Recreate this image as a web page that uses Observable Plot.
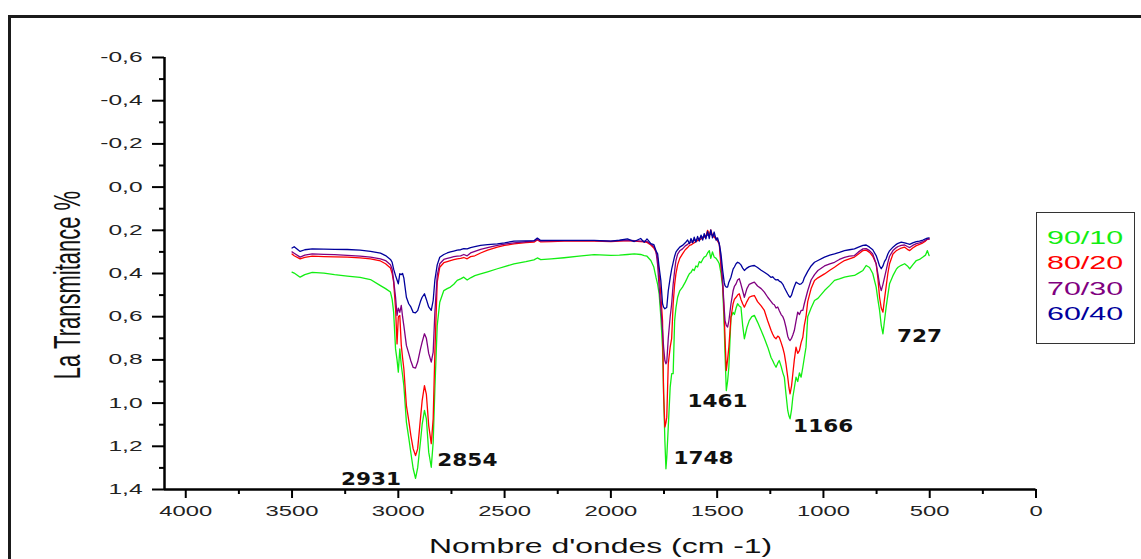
<!DOCTYPE html>
<html>
<head>
<meta charset="utf-8">
<script src="https://cdn.jsdelivr.net/npm/d3@7"></script>
<script src="https://cdn.jsdelivr.net/npm/@observablehq/plot@0.6"></script>
<style>
  html, body { margin: 0; padding: 0; background: #fff; }
  #wrap { position: relative; width: 1141px; height: 559px; overflow: hidden; font-family: "Liberation Sans", Arial, sans-serif; }
  #frame { position: absolute; left: 8px; top: 15px; width: 1200px; height: 600px; border: 3px solid #1b1b1b; box-sizing: border-box; }
  #chart { position: absolute; left: 0; top: 0; }
  #ytitle { position: absolute; left: 68px; top: 285px; font-size: 22px; line-height: 24px; white-space: nowrap; color: #111;
            transform: translate(-50%, -50%) scaleX(1.7) rotate(-90deg); }
  #xtitle { position: absolute; left: 429px; top: 536px; font-size: 21px; line-height: 20px; white-space: nowrap; color: #111;
            transform: scaleX(1.52); transform-origin: left center; }
  #legend { position: absolute; left: 1036px; top: 212px; width: 99px; height: 132px; border: 1.5px solid #333; box-sizing: border-box; }
  #legend div { position: absolute; left: 10px; font-size: 19px; line-height: 19px; white-space: nowrap;
                transform: scaleX(1.6); transform-origin: left center; }
</style>
</head>
<body>
<div id="wrap">
  <div id="frame"></div>
  <div id="chart"></div>
  <div id="ytitle">La Transmitance %</div>
  <div id="xtitle">Nombre d'ondes (cm -1)</div>
  <div id="legend"></div>
</div>
<script>
// FTIR spectra of the four blends, transmittance vs. wavenumber (cm-1)
const wavenumbers = [
  3500, 3490, 3462, 3440, 3405, 3350, 3300, 3240, 3180, 3131, 3084, 3060, 3037, 3029, 3022, 3013, 3006, 3000,
  2993, 2986, 2980, 2974, 2962, 2951, 2941, 2930, 2919, 2909, 2896, 2888, 2877, 2868, 2857, 2845, 2836, 2828,
  2817, 2805, 2786, 2770, 2755, 2739, 2723, 2707, 2692, 2676, 2660, 2640, 2613, 2580, 2534, 2500, 2456, 2400,
  2362, 2346, 2330, 2280, 2220, 2150, 2079, 2000, 1960, 1922, 1890, 1860, 1843, 1830, 1812, 1798, 1788, 1780,
  1773, 1765, 1757, 1752, 1746, 1741, 1737, 1730, 1721, 1714, 1707, 1700, 1694, 1686, 1676, 1663, 1650, 1639,
  1630, 1623, 1615, 1608, 1600, 1592, 1584, 1576, 1568, 1561, 1553, 1545, 1537, 1530, 1522, 1514, 1505, 1498,
  1490, 1482, 1474, 1467, 1463, 1457, 1451, 1445, 1435, 1425, 1419, 1411, 1404, 1396, 1388, 1380, 1372, 1360,
  1349, 1337, 1325, 1310, 1293, 1278, 1262, 1246, 1239, 1231, 1223, 1215, 1208, 1199, 1191, 1184, 1176, 1168,
  1162, 1157, 1150, 1144, 1137, 1129, 1121, 1113, 1105, 1097, 1090, 1082, 1074, 1058, 1042, 1026, 995, 970,
  948, 925, 901, 878, 854, 835, 814, 799, 783, 768, 752, 744, 736, 728, 720, 713, 705, 697,
  689, 673, 657, 649, 634, 618, 605, 594, 580, 563, 548, 532, 520, 511, 503
];

const blend9010 = [
  0.394, 0.398, 0.417, 0.405, 0.395, 0.398, 0.405, 0.412, 0.418, 0.428, 0.456, 0.470, 0.486, 0.520, 0.579, 0.749, 0.800, 0.857,
  0.749, 0.826, 0.870, 0.919, 1.088, 1.160, 1.230, 1.304, 1.348, 1.300, 1.180, 1.100, 1.034, 1.073, 1.227, 1.297, 1.181, 0.934,
  0.641, 0.533, 0.479, 0.470, 0.463, 0.450, 0.432, 0.425, 0.417, 0.430, 0.420, 0.410, 0.402, 0.392, 0.378, 0.368, 0.355, 0.345,
  0.337, 0.328, 0.336, 0.332, 0.327, 0.320, 0.313, 0.316, 0.315, 0.312, 0.309, 0.312, 0.317, 0.320, 0.340, 0.370, 0.417, 0.450,
  0.494, 0.600, 0.741, 0.950, 1.173, 1.304, 1.250, 1.111, 0.926, 0.864, 0.864, 0.618, 0.560, 0.510, 0.480, 0.463, 0.440, 0.417,
  0.400, 0.395, 0.380, 0.386, 0.365, 0.370, 0.345, 0.350, 0.335, 0.324, 0.320, 0.305, 0.294, 0.330, 0.300, 0.324, 0.330, 0.340,
  0.355, 0.400, 0.463, 0.640, 0.772, 0.942, 0.900, 0.834, 0.602, 0.580, 0.590, 0.560, 0.540, 0.550, 0.556, 0.640, 0.702, 0.650,
  0.618, 0.600, 0.594, 0.625, 0.664, 0.700, 0.741, 0.790, 0.803, 0.820, 0.834, 0.815, 0.803, 0.830, 0.860, 0.880, 0.960, 1.034,
  1.060, 1.073, 1.030, 0.973, 0.930, 0.880, 0.900, 0.860, 0.880, 0.834, 0.790, 0.741, 0.600, 0.560, 0.525, 0.515, 0.479, 0.455,
  0.432, 0.425, 0.417, 0.412, 0.409, 0.398, 0.386, 0.363, 0.372, 0.400, 0.463, 0.520, 0.570, 0.640, 0.679, 0.620, 0.556, 0.500,
  0.448, 0.410, 0.380, 0.371, 0.362, 0.355, 0.365, 0.378, 0.360, 0.340, 0.335, 0.324, 0.315, 0.294, 0.317
];

const blend8020 = [
  0.310, 0.318, 0.332, 0.325, 0.320, 0.322, 0.323, 0.324, 0.328, 0.332, 0.342, 0.355, 0.375, 0.400, 0.440, 0.563, 0.726, 0.600,
  0.594, 0.733, 0.790, 0.841, 1.011, 1.080, 1.150, 1.212, 1.243, 1.212, 1.073, 0.990, 0.919, 0.960, 1.104, 1.188, 1.073, 0.764,
  0.440, 0.371, 0.350, 0.345, 0.340, 0.336, 0.332, 0.330, 0.326, 0.332, 0.322, 0.318, 0.305, 0.292, 0.278, 0.270, 0.263, 0.257,
  0.255, 0.245, 0.254, 0.252, 0.250, 0.250, 0.250, 0.252, 0.250, 0.248, 0.250, 0.252, 0.253, 0.256, 0.268, 0.282, 0.300, 0.330,
  0.400, 0.500, 0.618, 0.957, 1.111, 1.090, 1.065, 0.818, 0.741, 0.700, 0.540, 0.450, 0.402, 0.360, 0.330, 0.309, 0.290, 0.280,
  0.270, 0.268, 0.262, 0.258, 0.252, 0.248, 0.245, 0.240, 0.236, 0.232, 0.228, 0.200, 0.222, 0.198, 0.225, 0.232, 0.240, 0.250,
  0.263, 0.371, 0.450, 0.587, 0.700, 0.849, 0.800, 0.741, 0.602, 0.540, 0.520, 0.510, 0.500, 0.494, 0.520, 0.540, 0.556, 0.530,
  0.510, 0.505, 0.502, 0.530, 0.550, 0.571, 0.620, 0.664, 0.680, 0.695, 0.702, 0.690, 0.695, 0.720, 0.745, 0.772, 0.820, 0.880,
  0.930, 0.957, 0.920, 0.864, 0.800, 0.741, 0.770, 0.757, 0.720, 0.695, 0.640, 0.600, 0.530, 0.470, 0.432, 0.420, 0.402, 0.385,
  0.371, 0.355, 0.340, 0.332, 0.324, 0.310, 0.294, 0.292, 0.302, 0.320, 0.355, 0.420, 0.510, 0.560, 0.579, 0.520, 0.460, 0.400,
  0.355, 0.310, 0.294, 0.290, 0.282, 0.278, 0.288, 0.294, 0.282, 0.271, 0.265, 0.258, 0.250, 0.242, 0.238
];

const blend7030 = [
  0.300, 0.306, 0.324, 0.315, 0.309, 0.311, 0.313, 0.316, 0.320, 0.324, 0.332, 0.340, 0.360, 0.380, 0.432, 0.510, 0.594, 0.560,
  0.580, 0.548, 0.600, 0.641, 0.733, 0.770, 0.805, 0.835, 0.838, 0.810, 0.750, 0.718, 0.679, 0.700, 0.770, 0.810, 0.764, 0.579,
  0.409, 0.355, 0.335, 0.330, 0.326, 0.322, 0.320, 0.318, 0.312, 0.318, 0.305, 0.298, 0.288, 0.280, 0.270, 0.264, 0.258, 0.253,
  0.250, 0.242, 0.250, 0.249, 0.248, 0.248, 0.248, 0.250, 0.248, 0.246, 0.248, 0.250, 0.250, 0.252, 0.265, 0.275, 0.295, 0.360,
  0.463, 0.560, 0.664, 0.740, 0.803, 0.818, 0.810, 0.700, 0.600, 0.540, 0.450, 0.386, 0.340, 0.310, 0.295, 0.286, 0.272, 0.265,
  0.258, 0.255, 0.252, 0.246, 0.245, 0.240, 0.238, 0.232, 0.230, 0.228, 0.225, 0.222, 0.220, 0.218, 0.222, 0.225, 0.235, 0.245,
  0.262, 0.340, 0.440, 0.560, 0.618, 0.640, 0.648, 0.620, 0.540, 0.480, 0.460, 0.448, 0.430, 0.424, 0.450, 0.480, 0.510, 0.470,
  0.450, 0.445, 0.440, 0.458, 0.470, 0.486, 0.510, 0.530, 0.540, 0.545, 0.560, 0.555, 0.571, 0.590, 0.600, 0.618, 0.650, 0.690,
  0.705, 0.710, 0.700, 0.685, 0.664, 0.620, 0.579, 0.590, 0.571, 0.571, 0.540, 0.510, 0.480, 0.430, 0.405, 0.386, 0.365, 0.355,
  0.348, 0.335, 0.325, 0.320, 0.317, 0.300, 0.286, 0.285, 0.294, 0.310, 0.355, 0.400, 0.450, 0.479, 0.450, 0.420, 0.386, 0.350,
  0.320, 0.294, 0.280, 0.275, 0.270, 0.268, 0.275, 0.280, 0.270, 0.262, 0.258, 0.252, 0.246, 0.240, 0.242
];

const blend6040 = [
  0.282, 0.276, 0.298, 0.290, 0.286, 0.287, 0.288, 0.289, 0.292, 0.298, 0.306, 0.317, 0.335, 0.348, 0.380, 0.410, 0.430, 0.448,
  0.401, 0.405, 0.400, 0.420, 0.510, 0.540, 0.555, 0.580, 0.582, 0.572, 0.530, 0.510, 0.494, 0.520, 0.555, 0.571, 0.525, 0.430,
  0.360, 0.325, 0.312, 0.305, 0.300, 0.296, 0.292, 0.290, 0.285, 0.286, 0.280, 0.276, 0.270, 0.266, 0.263, 0.258, 0.250, 0.249,
  0.248, 0.236, 0.247, 0.247, 0.247, 0.247, 0.247, 0.250, 0.246, 0.240, 0.252, 0.238, 0.256, 0.240, 0.262, 0.266, 0.295, 0.309,
  0.371, 0.432, 0.540, 0.556, 0.563, 0.560, 0.556, 0.480, 0.420, 0.380, 0.350, 0.320, 0.301, 0.290, 0.278, 0.270, 0.258, 0.245,
  0.262, 0.238, 0.258, 0.232, 0.255, 0.228, 0.250, 0.222, 0.245, 0.215, 0.240, 0.205, 0.238, 0.198, 0.235, 0.208, 0.245, 0.235,
  0.263, 0.310, 0.386, 0.440, 0.456, 0.463, 0.463, 0.440, 0.417, 0.380, 0.370, 0.355, 0.348, 0.352, 0.360, 0.375, 0.386, 0.375,
  0.368, 0.365, 0.363, 0.372, 0.385, 0.394, 0.405, 0.418, 0.415, 0.424, 0.430, 0.428, 0.435, 0.440, 0.450, 0.465, 0.480, 0.495,
  0.505, 0.510, 0.500, 0.480, 0.460, 0.440, 0.445, 0.450, 0.448, 0.440, 0.420, 0.405, 0.390, 0.365, 0.348, 0.340, 0.324, 0.315,
  0.309, 0.302, 0.294, 0.290, 0.286, 0.278, 0.270, 0.268, 0.278, 0.290, 0.317, 0.340, 0.365, 0.378, 0.365, 0.345, 0.332, 0.310,
  0.295, 0.278, 0.265, 0.260, 0.255, 0.258, 0.262, 0.265, 0.258, 0.252, 0.250, 0.245, 0.240, 0.236, 0.235
];

const blendNames = ["90/10", "80/20", "70/30", "60/40"];
const blendColors = ["#12ee12", "#ff0000", "#800080", "#00009c"];

const xTicks = [4000, 3500, 3000, 2500, 2000, 1500, 1000, 500, 0];
const xMinorTicks = [3750, 3250, 2750, 2250, 1750, 1250, 750, 250];
const yTicks = [-0.6, -0.4, -0.2, 0.0, 0.2, 0.4, 0.6, 0.8, 1.0, 1.2, 1.4];
const yMinorTicks = [-0.5, -0.3, -0.1, 0.1, 0.3, 0.5, 0.7, 0.9, 1.1, 1.3];

// assigned absorption bands (cm-1)
const peakBands = [2931, 2854, 1748, 1461, 1166, 727];

const xDomain = [4100, 0];
const yDomain = [1.4, -0.6];

const series = [blend9010, blend8020, blend7030, blend6040];
const rows = blendNames.flatMap((name, k) =>
  wavenumbers.map((w, i) => ({ wn: w, t: series[k][i], blend: name }))
);

// label placement: horizontal pixel shift from the band and baseline height on the y scale
const bandLabelPlacement = {
  2931: { dx: -42, y: 1.381 },
  2854: { dx: 38, y: 1.289 },
  1748: { dx: 39, y: 1.280 },
  1461: { dx: -8, y: 1.020 },
  1166: { dx: 35, y: 1.136 },
  727: { dx: 38, y: 0.719 }
};

const decimalComma = d => d.toFixed(1).replace(".", ",");
const tickFont = "'Liberation Sans', Arial, sans-serif";

const chart = Plot.plot({
  width: 1141,
  height: 559,
  marginLeft: 164,
  marginRight: 105.5,
  marginTop: 57,
  marginBottom: 70,
  style: { fontFamily: tickFont, background: "transparent", overflow: "visible" },
  x: { domain: xDomain },
  y: { domain: yDomain },
  color: { domain: blendNames, range: blendColors },
  marks: [
    // tick marks
    Plot.axisX(xMinorTicks, { tickSize: 5, strokeWidth: 2, stroke: "#000", text: null, label: null }),
    Plot.axisX(xTicks, { tickSize: 9, strokeWidth: 2, stroke: "#000", text: null, label: null }),
    Plot.axisY(yMinorTicks, { tickSize: 5, strokeWidth: 2, stroke: "#000", text: null, label: null }),
    Plot.axisY(yTicks, { tickSize: 12, strokeWidth: 2, stroke: "#000", text: null, label: null }),
    // tick labels
    Plot.text(xTicks, { x: d => d, frameAnchor: "bottom", dy: 17, lineAnchor: "top", text: d => String(d),
                        fontSize: 14, fontFamily: tickFont, fill: "#222" }),
    Plot.text(yTicks, { y: d => d, frameAnchor: "left", dx: -22, textAnchor: "end", lineAnchor: "middle",
                        text: decimalComma, fontSize: 14, fontFamily: tickFont, fill: "#222" }),
    // spectra
    Plot.line(rows, { x: "wn", y: "t", z: "blend", stroke: "blend", strokeWidth: 1.3 }),
    // axis lines
    Plot.ruleX([xDomain[0]], { stroke: "#000", strokeWidth: 2.5 }),
    Plot.ruleY([yDomain[0]], { stroke: "#000", strokeWidth: 2.5 }),
    // band annotations
    ...peakBands.map(b => Plot.text([b], {
      x: d => d,
      y: () => bandLabelPlacement[b].y,
      dx: bandLabelPlacement[b].dx,
      text: d => String(d),
      lineAnchor: "bottom",
      fontFamily: "'DejaVu Sans', Verdana, sans-serif",
      fontWeight: "bold",
      fontSize: 18,
      fill: "#111"
    }))
  ]
});

// widen glyphs horizontally around each label's own anchor point
const xTickSet = new Set(xTicks.map(String));
const yTickSet = new Set(yTicks.map(decimalComma));
const bandSet = new Set(peakBands.map(String));
chart.querySelectorAll("text").forEach(t => {
  const s = t.textContent;
  let k = 0;
  if (bandSet.has(s)) k = 1.2;
  else if (xTickSet.has(s)) k = 1.7;
  else if (yTickSet.has(s)) k = 1.75;
  if (k) {
    const tr = t.getAttribute("transform") || "";
    t.setAttribute("transform", (tr + ` scale(${k},1)`).trim());
  }
});

document.getElementById("chart").appendChild(chart);

// legend
const legend = document.getElementById("legend");
const legendTops = [14.5, 40, 65.5, 91];
blendNames.forEach((name, i) => {
  const div = document.createElement("div");
  div.textContent = name;
  div.style.color = blendColors[i];
  div.style.top = legendTops[i] + "px";
  legend.appendChild(div);
});
</script>
</body>
</html>
